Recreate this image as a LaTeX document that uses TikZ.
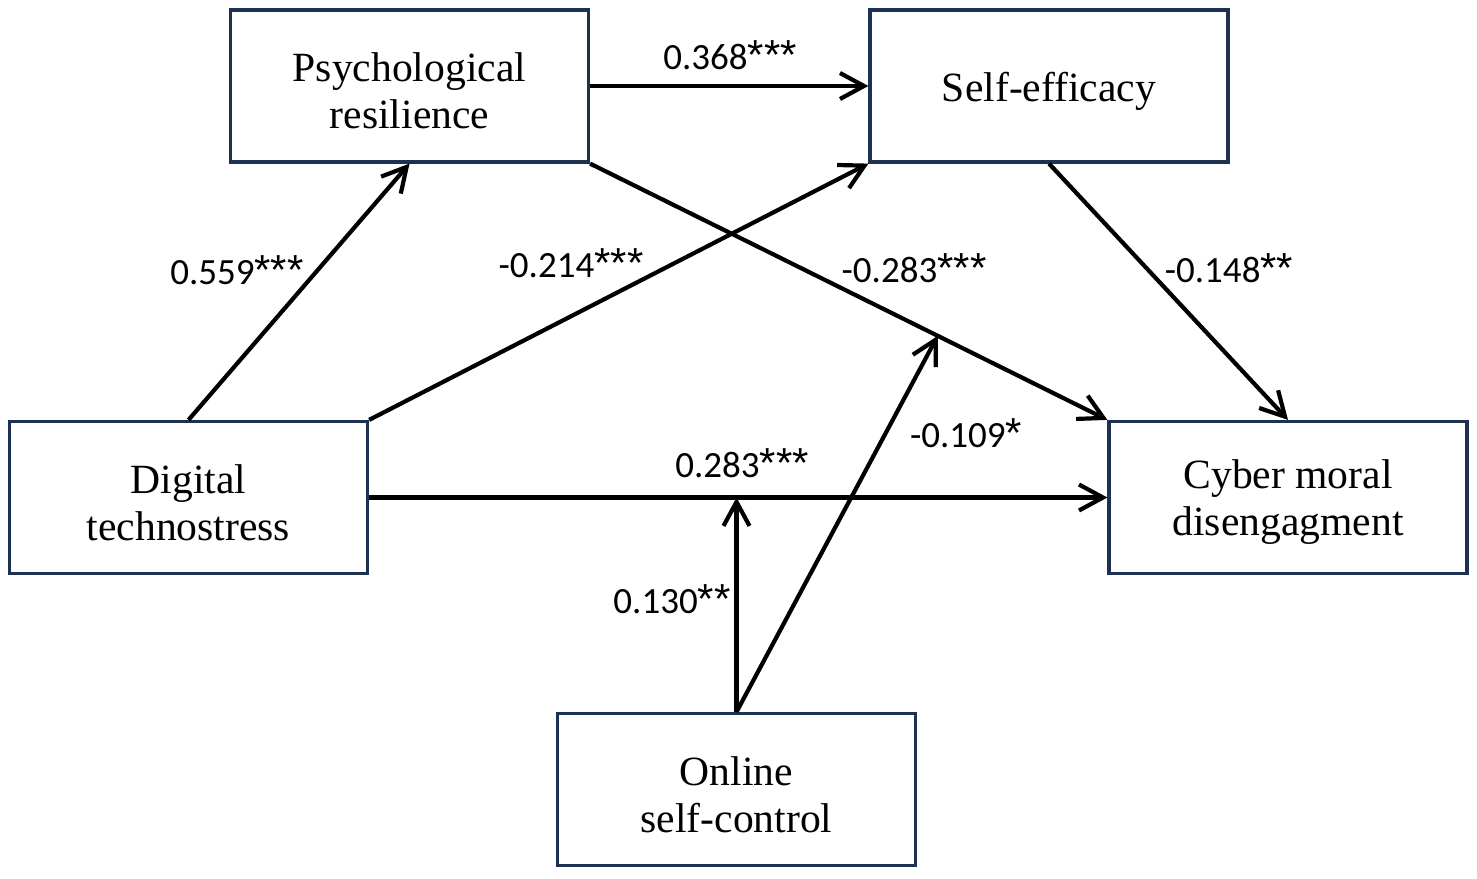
\documentclass[tikz,border=0pt]{standalone}
\usepackage{fontspec}
\setmainfont{Liberation Serif}
\newfontfamily\lblfont{Carlito}
\newfontfamily\starfont{Liberation Sans}
\usepackage{xcolor}
\usepackage{tikz}
\usetikzlibrary{positioning}
\usetikzlibrary{arrows.meta}
\usetikzlibrary{calc}
\definecolor{boxnavy}{HTML}{1F3150}
\newcommand{\sig}[1]{{\starfont\fontsize{21}{22}\selectfont #1}}

\begin{document}
\begin{tikzpicture}[
      x=0.5pt, y=-0.5pt,
      mybox/.style={draw=boxnavy,line width=1.6pt,rectangle,minimum width=179pt,
        minimum height=76pt,inner sep=0pt},
      boxtext/.style={align=center,inner sep=0pt,yshift=-2.5pt,
        font=\fontsize{20.8}{23.5}\selectfont},
      mylabel/.style={inner sep=0pt,font=\lblfont\fontsize{18.5}{22}\selectfont},
      myarrow/.style={line width=2.1pt,-{Straight Barb[length=12pt,width=13pt,line width=2.1pt]}}
      ]
      \useasboundingbox (0,0) rectangle (1477,878);

      \node[mybox, label={[boxtext]center:Psychological\\resilience}] (pr) at (409.5,86) {};
      \node[mybox, label={[boxtext]center:Self-efficacy}] (se) at (1049,86) {};
      \node[mybox, label={[boxtext]center:Digital\\technostress}] (dt) at (188.5,497.5) {};
      \node[mybox, label={[boxtext]center:Cyber moral\\disengagment}] (cmd) at (1288,497.5) {};
      \node[mybox, label={[boxtext]center:Online\\self-control}] (osc) at (736.5,789.5) {};

      % paths between constructs
      \path (pr.east) edge[myarrow] (se.west)
      (dt.north) edge[myarrow] (pr.south)
      (dt.north east) edge[myarrow] (se.south west)
      (se.south) edge[myarrow] (cmd.north)
      (dt.east) edge[myarrow] (cmd.west)
      ;
      \draw[myarrow] (pr.south east) -- (cmd.north west) coordinate[pos=0.672] (mod1);
      \coordinate (mod2) at (dt.east -| osc.north);

      % moderation
      \path (osc.north) edge[myarrow] (mod2)
      (osc.north) edge[myarrow] (mod1)
      ;

      \node[mylabel] (l1) at (730,55) {0.368\sig{***}};
      \node[mylabel] (l2) at (237,270) {0.559\sig{***}};
      \node[mylabel] (l3) at (571,263) {-0.214\sig{***}};
      \node[mylabel] (l4) at (914,268) {-0.283\sig{***}};
      \node[mylabel] (l5) at (1229,268) {-0.148\sig{**}};
      \node[mylabel] (l6) at (742,463) {0.283\sig{***}};
      \node[mylabel] (l7) at (672,599) {0.130\sig{**}};
      \node[mylabel] (l8) at (966,433) {-0.109\sig{*}};

    \end{tikzpicture}
\end{document}
